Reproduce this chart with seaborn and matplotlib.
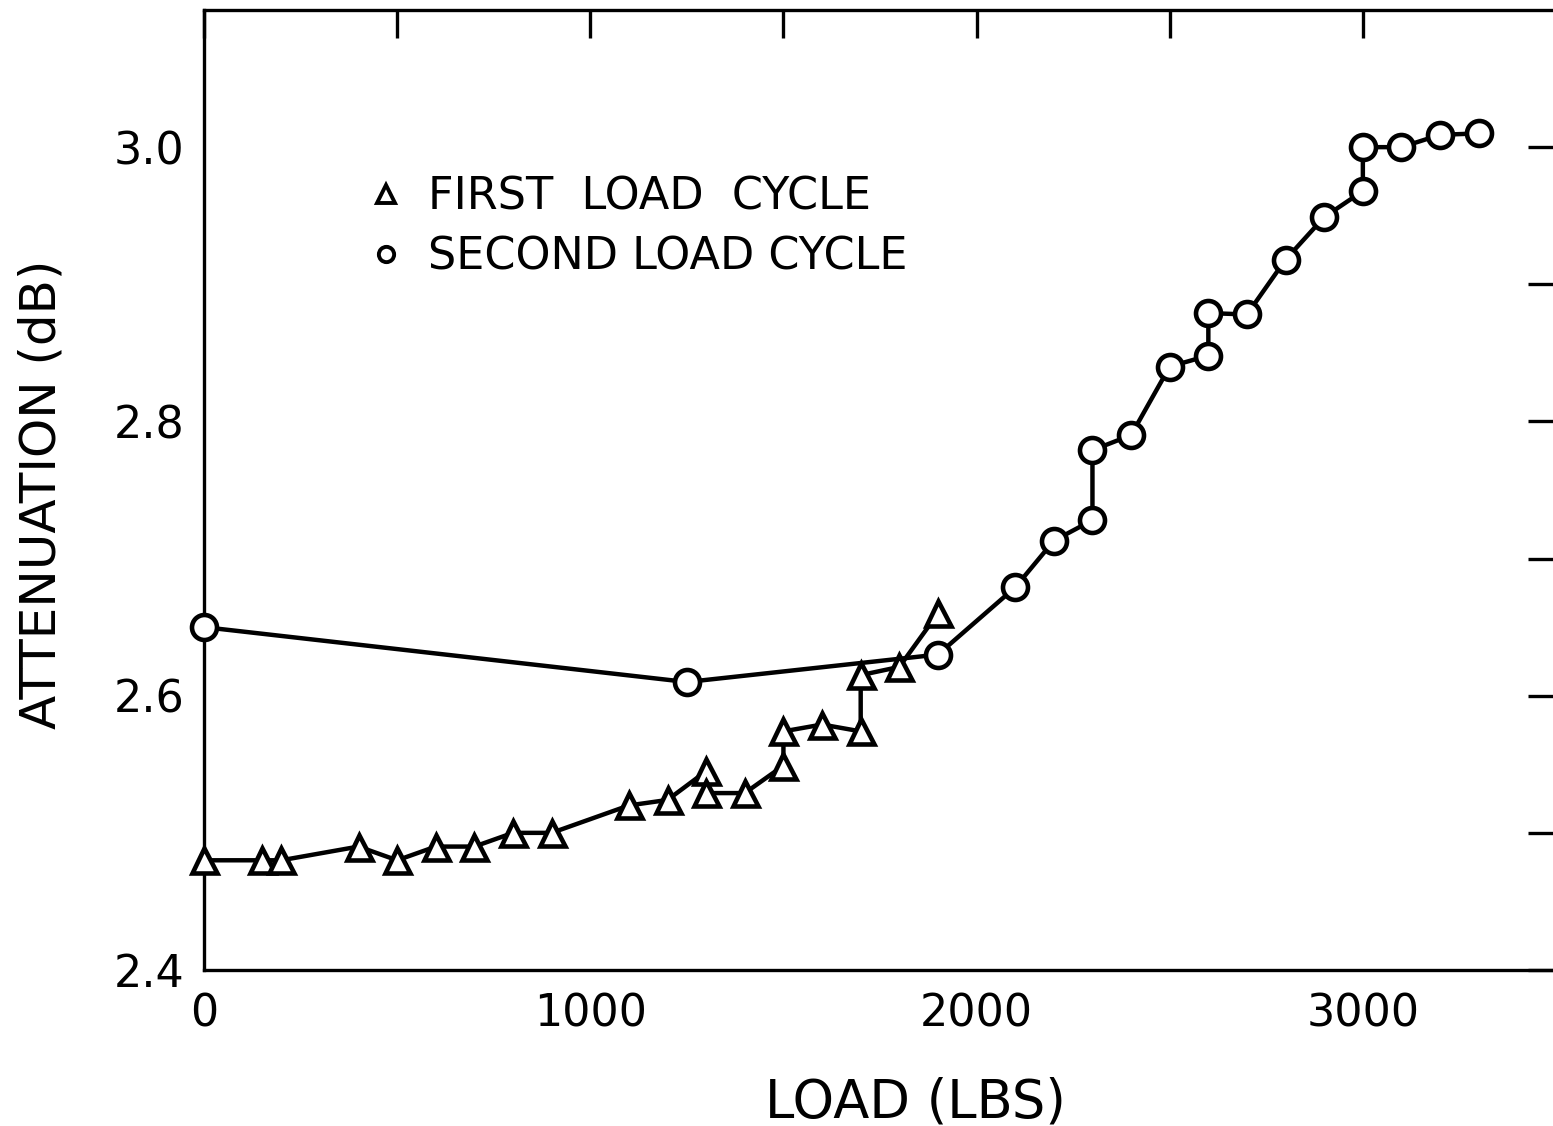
import pandas as pd
import seaborn as sns
import matplotlib.pyplot as plt
from matplotlib.lines import Line2D

# first load cycle (triangles), in drawing order
first_load = [0, 150, 200, 400, 500, 600, 700, 800, 900, 1100, 1200, 1300, 1300,
              1400, 1500, 1500, 1600, 1700, 1700, 1800, 1900]
first_att = [2.48, 2.48, 2.48, 2.49, 2.48, 2.49, 2.49, 2.50, 2.50, 2.52, 2.524, 2.545, 2.529,
             2.529, 2.549, 2.574, 2.579, 2.574, 2.615, 2.621, 2.66]

# second load cycle (circles), in drawing order
second_load = [0, 1250, 1900, 2100, 2200, 2300, 2300, 2400, 2500, 2600, 2600, 2700,
               2800, 2900, 3000, 3000, 3100, 3200, 3300]
second_att = [2.65, 2.61, 2.63, 2.679, 2.713, 2.728, 2.779, 2.79, 2.84, 2.848, 2.879, 2.878,
              2.918, 2.949, 2.968, 3.0, 3.0, 3.009, 3.01]

x_ticks = [0, 500, 1000, 1500, 2000, 2500, 3000, 3500]
x_ticklabels = ['0', '', '1000', '', '2000', '', '3000', '']
y_ticks = [2.4, 2.5, 2.6, 2.7, 2.8, 2.9, 3.0]
y_ticklabels = ['2.4', '', '2.6', '', '2.8', '', '3.0']

df = pd.concat([
    pd.DataFrame({'load': first_load, 'att': first_att, 'cycle': 'FIRST LOAD CYCLE'}),
    pd.DataFrame({'load': second_load, 'att': second_att, 'cycle': 'SECOND LOAD CYCLE'}),
])

sns.set_style('white')
plt.rcParams['font.family'] = ['DejaVu Sans']
plt.rcParams['text.color'] = 'black'
plt.rcParams['axes.labelcolor'] = 'black'
plt.rcParams['xtick.color'] = 'black'
plt.rcParams['ytick.color'] = 'black'

fig = plt.figure(figsize=(15.53, 11.26), dpi=100)
ax = fig.add_axes([204 / 1553, 156 / 1126, 1352 / 1553, 960 / 1126])

sns.lineplot(data=df, x='load', y='att', hue='cycle', style='cycle',
             markers={'FIRST LOAD CYCLE': '^', 'SECOND LOAD CYCLE': 'o'},
             dashes=False, sort=False, estimator=None, units='cycle',
             palette=['black', 'black'], legend=False, ax=ax,
             lw=3.2, markersize=18, markerfacecolor='white',
             markeredgecolor='black', markeredgewidth=3.3, zorder=3, clip_on=False)

ax.set_xlim(0, 3500)
ax.set_ylim(2.4, 3.1)
ax.set_xticks(x_ticks)
ax.set_xticklabels(x_ticklabels)
ax.set_yticks(y_ticks)
ax.set_yticklabels(y_ticklabels)

for s in ax.spines.values():
    s.set_linewidth(2.4)
    s.set_color('black')

ax.tick_params(axis='both', direction='in', length=20, width=2.4, color='black',
               top=True, right=True, labelsize=32, labelcolor='black')
ax.tick_params(axis='x', pad=16)
ax.tick_params(axis='y', pad=14)

ax.set_xlabel('LOAD (LBS)', fontsize=38, labelpad=0)
ax.set_ylabel('ATTENUATION (dB)', fontsize=36, labelpad=0)
ax.xaxis.set_label_coords(0.526, -0.1375)
ax.xaxis.label.set_verticalalignment('center')
ax.yaxis.set_label_coords(-0.12, 0.495)
ax.yaxis.label.set_verticalalignment('center')

handles = [
    Line2D([], [], ls='none', marker='^', markersize=13, markerfacecolor='white',
           markeredgecolor='black', markeredgewidth=2.8),
    Line2D([], [], ls='none', marker='o', markersize=11, markerfacecolor='white',
           markeredgecolor='black', markeredgewidth=2.8),
]
ax.legend(handles, ['FIRST  LOAD  CYCLE', 'SECOND LOAD CYCLE'], loc='center left',
          bbox_to_anchor=(0.105, 0.774), frameon=False, fontsize=32,
          handlelength=0.8, handletextpad=0.55, labelspacing=0.38, borderpad=0)

fig.savefig('out.png', dpi=100)
